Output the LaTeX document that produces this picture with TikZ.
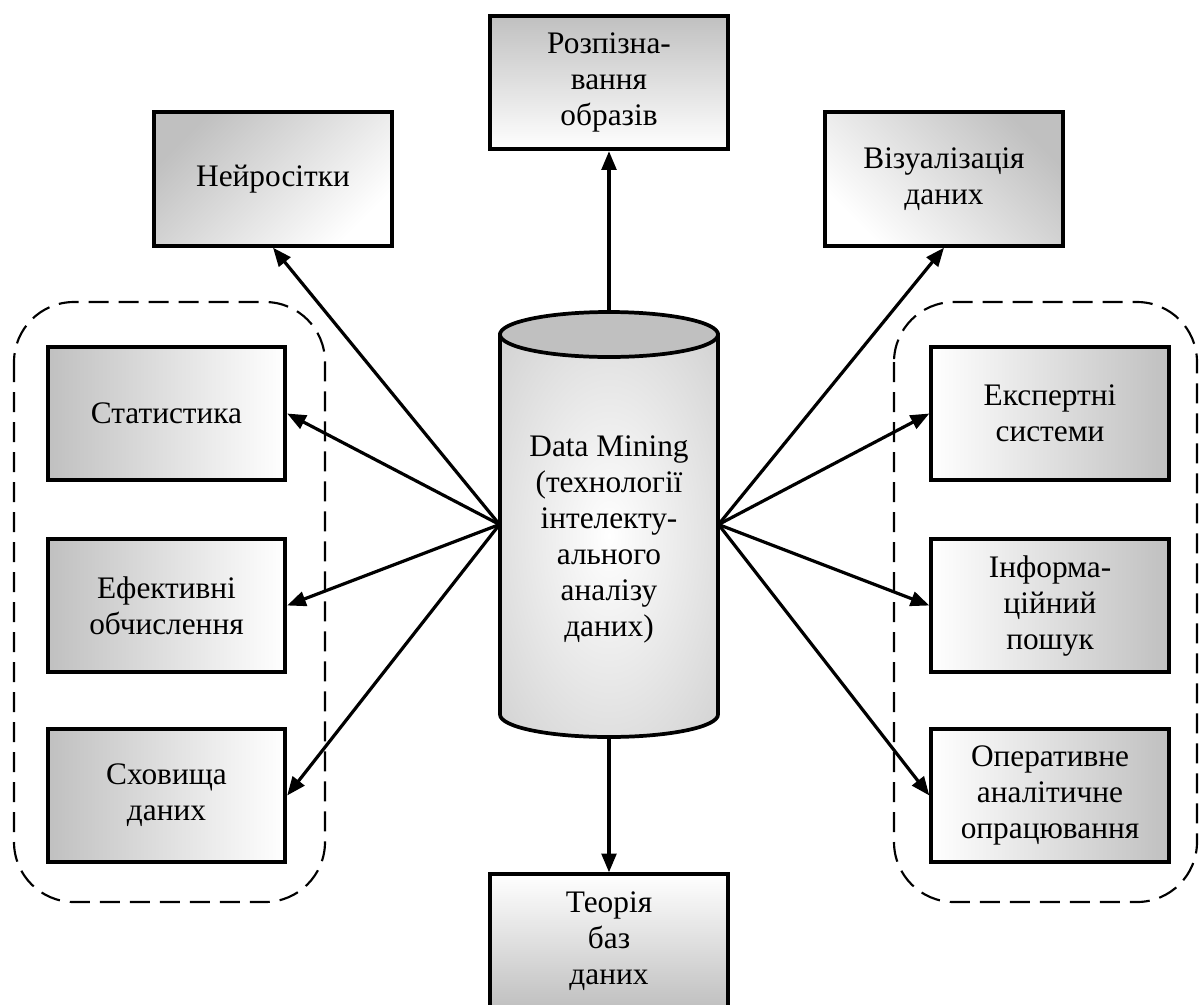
\documentclass[tikz,border=0pt]{standalone}
\usepackage{fontspec}
\setmainfont{Liberation Serif}
\usetikzlibrary{arrows.meta}

\definecolor{silvergray}{RGB}{192,192,192}
\newcommand{\blkfont}{\fontsize{23.5}{27}\selectfont}
\pgfdeclareradialshading{cylglow}{\pgfpoint{0bp}{0bp}}{color(0bp)=(white); color(50bp)=(silvergray); color(75bp)=(silvergray)}

\tikzset{every picture/.style={line width=0.75pt}}
\tikzset{
  blk/.style={draw, line width=3pt, minimum width=178pt, minimum height=100pt,
    inner sep=0.75pt, align=center, font=\blkfont},
  shadeup/.style={top color=silvergray, bottom color=white},
  shadedown/.style={top color=white, bottom color=silvergray},
  shadeleft/.style={left color=silvergray, right color=white},
  shaderight/.style={left color=white, right color=silvergray},
  grp/.style={draw, dashed, dash pattern=on 15pt off 7.5pt, line width=1.6pt, rounded corners=45pt},
  lnk/.style={line width=2.4pt, -{Triangle[length=14pt,width=11pt]}},
}

\begin{document}
\begin{tikzpicture}[x=0.75pt,y=0.75pt,yscale=-1,xscale=1]
\useasboundingbox (0,0) rectangle (1200,1004);

% dashed groups
\draw [grp] (14,302) rectangle (325,902);
\draw [grp] (894,302) rectangle (1197,902);

% cylinder
\path [draw, line width=2.8pt, shading=cylglow] (500,334.5) -- (500,714.5) arc [start angle=180, end angle=0, x radius=109, y radius=22.5] -- (718,334.5) -- cycle;
\draw [line width=2.8pt, fill=silvergray] (609,334.5) ellipse [x radius=109, y radius=22.5];
\node [minimum width=163.5pt, minimum height=318.75pt, align=center, font=\blkfont, inner sep=0pt] (dm) at (609,524.5) {\rule{0pt}{38pt}Data Mining\\(технології\\інтелекту-\\ального\\аналізу\\даних)};

% Text Node
\node [blk, shadeup] (rec) at (609,82.5) {Розпізна-\\вання\\образів};
% Text Node
\node [blk, top color=silvergray, bottom color=white, shading angle=45] (nn) at (273,179) {Нейросітки};
% Text Node
\node [blk, top color=silvergray, bottom color=white, shading angle=-45] (vis) at (944,179) {Візуалізація\\даних};
% Text Node
\node [blk, shadeleft] (stat) at (166.5,413.5) {Статистика};
% Text Node
\node [blk, shadeleft] (eff) at (166.5,605.5) {Ефективні\\обчислення};
% Text Node
\node [blk, shadeleft] (dw) at (166.5,795.5) {Сховища\\даних};
% Text Node
\node [blk, shaderight] (exp) at (1050,413.5) {Експертні\\системи};
% Text Node
\node [blk, shaderight] (ir) at (1050,605.5) {Інформа-\\ційний\\пошук};
% Text Node
\node [blk, shaderight] (olap) at (1050,795.5) {Оперативне\\аналітичне\\опрацювання};
% Text Node
\node [blk, shadedown] (db) at (609,941) {Теорія\\баз\\даних};

% links
\draw [lnk] (dm.north) -- (rec.south);
\draw [lnk] (dm.south) -- (db.north);
\draw [lnk] (dm.west) -- (nn.south);
\draw [lnk] (dm.west) -- (stat.east);
\draw [lnk] (dm.west) -- (eff.east);
\draw [lnk] (dm.west) -- (dw.east);
\draw [lnk] (dm.east) -- (vis.south);
\draw [lnk] (dm.east) -- (exp.west);
\draw [lnk] (dm.east) -- (ir.west);
\draw [lnk] (dm.east) -- (olap.west);

\end{tikzpicture}
\end{document}
